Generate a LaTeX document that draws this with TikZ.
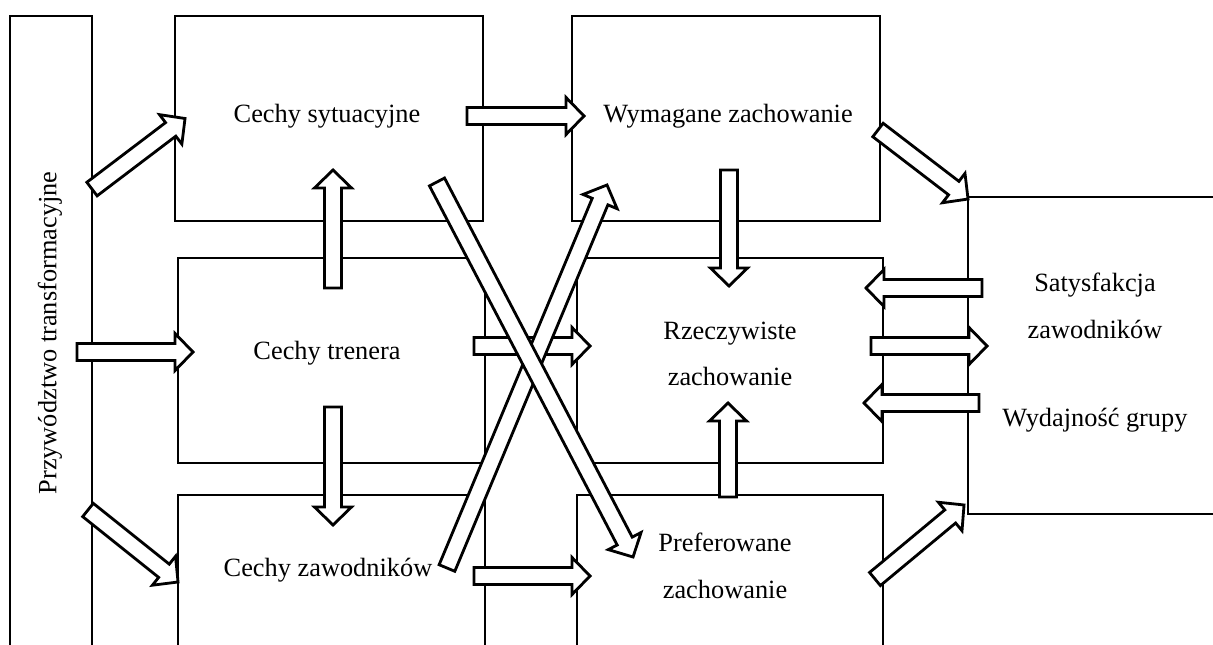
\documentclass[tikz,border=0pt]{standalone}
\usepackage{fontspec}
\setmainfont{Liberation Serif}
\usetikzlibrary{calc}

\newcommand{\shaftw}{0.17cm}
\newcommand{\headw}{0.37cm}
\newcommand{\headl}{0.36cm}
% block arrow from tail #1 to tip #2
\newcommand{\blockarrow}[2]{%
  \coordinate (ba-t) at #1;
  \coordinate (ba-h) at #2;
  \coordinate (ba-b) at ($(ba-h)!\headl!(ba-t)$);
  \draw[barrow] ($(ba-t)!\shaftw!90:(ba-h)$) -- ($(ba-b)!\shaftw!90:(ba-h)$)
    -- ($(ba-b)!\headw!90:(ba-h)$) -- (ba-h)
    -- ($(ba-b)!\headw!-90:(ba-h)$) -- ($(ba-b)!\shaftw!-90:(ba-h)$)
    -- ($(ba-t)!\shaftw!-90:(ba-h)$) -- cycle;}

\begin{document}
\begin{tikzpicture}[x=0.02cm, y=-0.02cm, line width=1.6pt,
  box/.style={draw, fill=white, inner sep=0pt, outer sep=0pt},
  lbl/.style={font=\fontsize{15}{26.5}\selectfont, align=center, inner sep=0pt},
  barrow/.style={draw, fill=white, line width=1.6pt, line join=miter}]

\useasboundingbox (0,0) rectangle (1213,645);
\clip (0,0) rectangle (1213,645);

% --- Boxes ---
\node[box, minimum width=1.64cm, minimum height=13.68cm] (lead) at (51,358) {};
\node[box, minimum width=6.16cm, minimum height=4.10cm] (sit) at (329,118.5) {};
\node[box, minimum width=6.16cm, minimum height=4.10cm] (wym) at (726,118.5) {};
\node[box, minimum width=6.14cm, minimum height=4.10cm] (tren) at (331.5,360.5) {};
\node[box, minimum width=6.12cm, minimum height=4.10cm] (rzecz) at (730,360.5) {};
\node[box, minimum width=6.14cm, minimum height=4.10cm] (zaw) at (331.5,597.5) {};
\node[box, minimum width=6.12cm, minimum height=4.10cm] (pref) at (730,597.5) {};
\node[box, minimum width=5.44cm, minimum height=6.34cm] (out) at (1104,355.5) {};

% --- Labels ---
\node[lbl, rotate=90] (leadlbl) at (50,333) {Przywództwo transformacyjne};
\node[lbl] (sitlbl) at (327,116) {Cechy sytuacyjne};
\node[lbl] (wymlbl) at (728,116) {Wymagane zachowanie};
\node[lbl] (trenlbl) at (327,353) {Cechy trenera};
\node[lbl] (rzeczlbl) at (730,354) {Rzeczywiste\\zachowanie};
\node[lbl] (zawlbl) at (328,570) {Cechy zawodników};
\node[lbl] (preflbl) at (725,566) {Preferowane\\zachowanie};
\node[lbl] (satlbl) at (1095,306) {Satysfakcja\\zawodników};
\node[lbl] (wydlbl) at (1095,420) {Wydajność grupy};

% --- Arrows from leadership ---
\blockarrow{($(lead.north east)+(0,173)$)}{($(sit.west)+(10,0)$)}
\blockarrow{($(lead.east)+(-15,-6)$)}{($(tren.west)+(15,-8.5)$)}
\blockarrow{($(lead.east)+(-4,152)$)}{($(zaw.west)+(0,-15.5)$)}

% --- Arrows between boxes ---
\blockarrow{($(sit.east)+(-16,-2.5)$)}{($(wym.west)+(12,-2.5)$)}
\blockarrow{($(wym.east)+(-2,11.5)$)}{($(out.north west)+(0,2)$)}
\blockarrow{($(wym.south)+(3,-51)$)}{($(rzecz.north)+(-1,28)$)}
\blockarrow{($(tren.north)+(1.5,30)$)}{($(sit.south)+(4,-51)$)}
\blockarrow{($(tren.south)+(1.5,-56)$)}{($(zaw.north)+(1.5,30)$)}
\blockarrow{($(zaw.east)+(-11,-21.5)$)}{($(pref.west)+(13,-21.5)$)}
\blockarrow{($(pref.north)+(-2,2)$)}{($(rzecz.south)+(-2,-60)$)}

% --- Arrows to and from outcomes ---
\blockarrow{($(out.west)+(14,-67.5)$)}{($(rzecz.east)+(-17,-72.5)$)}
\blockarrow{($(rzecz.east)+(-12,-14.5)$)}{($(out.west)+(19,-9.5)$)}
\blockarrow{($(out.west)+(11,47.5)$)}{($(rzecz.east)+(-19,42.5)$)}
\blockarrow{($(pref.north east)+(-8,84)$)}{($(out.south west)+(-4,-9)$)}

% --- Crossing arrows ---
\blockarrow{($(tren.east)+(-11,-14.5)$)}{($(rzecz.west)+(13,-14.5)$)}
\blockarrow{($(zaw.east)+(-38,-29.5)$)}{($(wym.south)+(-119,-36)$)}
\blockarrow{($(sit.south)+(108,-39)$)}{($(pref.west)+(56,-40.5)$)}

\end{tikzpicture}
\end{document}
